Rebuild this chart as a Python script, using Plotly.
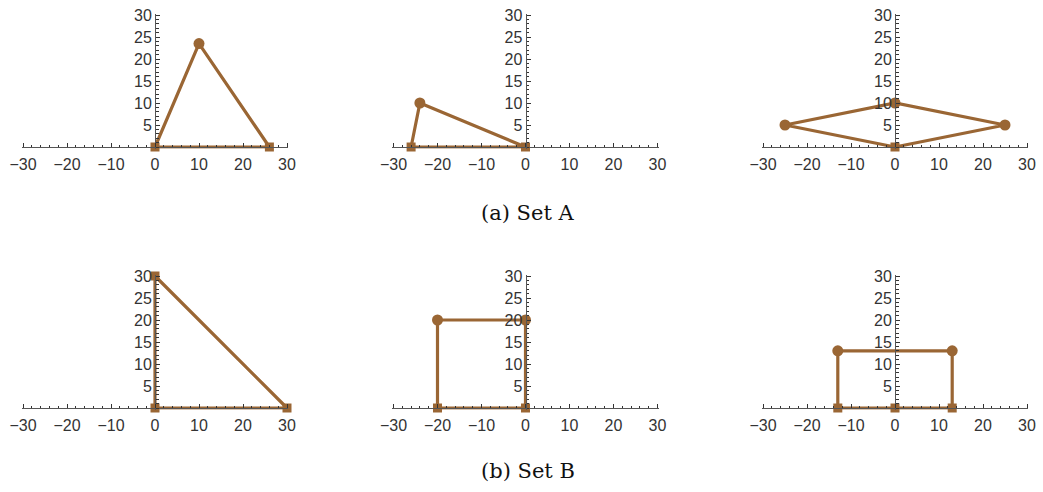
import plotly.graph_objects as go

# ---------------- data ----------------
a1_x = [0, 10, 26]
a1_y = [0, 23.5, 0]
a1_kind = ["fixed", "free", "fixed"]

a2_x = [-26, -24, 0]
a2_y = [0, 10, 0]
a2_kind = ["fixed", "free", "fixed"]

a3_x = [0, -25, 0, 25]
a3_y = [0, 5, 10, 5]
a3_kind = ["fixed", "free", "free", "free"]

b1_x = [0, 0, 30]
b1_y = [0, 30, 0]
b1_kind = ["fixed", "fixed", "fixed"]

b2_x = [-20, -20, 0, 0]
b2_y = [0, 20, 20, 0]
b2_kind = ["fixed", "free", "free", "fixed"]

b3_x = [-13, -13, 13, 13, 0]
b3_y = [0, 13, 13, 0, 0]
b3_kind = ["fixed", "free", "free", "fixed", "fixed"]

x_ticks = [-30, -20, -10, 0, 10, 20, 30]
y_ticks = [5, 10, 15, 20, 25, 30]
captions = ["(a) Set A", "(b) Set B"]

# ---------------- layout helpers ----------------
W, H = 1043, 492
PX = 4.4            # pixels per data unit
XR = 30.3
YTOP = 30.3
YBOT = 0.4
col_centers = [155, 525.5, 895]
row_zero = [147, 408]
caption_y = [213, 471]

BROWN = "rgb(154,102,52)"
symbol_map = {"fixed": "square", "free": "circle"}
size_map = {"fixed": 9, "free": 11}

panels = [
    (a1_x, a1_y, a1_kind), (a2_x, a2_y, a2_kind), (a3_x, a3_y, a3_kind),
    (b1_x, b1_y, b1_kind), (b2_x, b2_y, b2_kind), (b3_x, b3_y, b3_kind),
]

fig = go.Figure()
layout = dict(
    width=W, height=H, margin=dict(l=0, r=0, t=0, b=0, pad=0, autoexpand=False),
    paper_bgcolor="white", plot_bgcolor="white", showlegend=False,
)

tickfont = dict(family="Liberation Sans, Arial, sans-serif", size=16, color="#333")

for i, (px, py, kind) in enumerate(panels):
    r, c = divmod(i, 3)
    n = "" if i == 0 else str(i + 1)
    cx = col_centers[c]
    y0 = row_zero[r]
    xd = [(cx - XR * PX) / W, (cx + XR * PX) / W]
    yd = [1 - (y0 + YBOT * PX) / H, 1 - (y0 - YTOP * PX) / H]

    layout["xaxis" + n] = dict(
        domain=xd, range=[-XR, XR], anchor="free", position=1 - y0 / H,
        automargin=False, ticklabelstandoff=3,
        showgrid=False, zeroline=False, showline=True, linecolor="#555", linewidth=1,
        tickvals=x_ticks, ticktext=[str(v).replace("-", "\u2212") for v in x_ticks],
        ticks="inside", ticklen=4, tickwidth=1, tickcolor="#333",
        minor=dict(dtick=2, tick0=0, ticks="inside", ticklen=2.5, tickwidth=1, tickcolor="#333"),
        tickfont=tickfont, fixedrange=True,
    )
    layout["yaxis" + n] = dict(
        domain=yd, range=[-YBOT, YTOP], anchor="free", position=cx / W,
        automargin=False,
        showgrid=False, zeroline=False, showline=True, linecolor="#555", linewidth=1,
        tickvals=y_ticks, ticks="inside", ticklen=4, tickwidth=1, tickcolor="#333",
        minor=dict(dtick=1, tick0=0, ticks="inside", ticklen=2.5, tickwidth=1, tickcolor="#333"),
        tickfont=tickfont, fixedrange=True,
    )

    fig.add_trace(go.Scatter(
        x=list(px) + [px[0]], y=list(py) + [py[0]], mode="lines",
        line=dict(color=BROWN, width=3.2), xaxis="x" + n, yaxis="y" + n,
        hoverinfo="skip",
    ))
    fig.add_trace(go.Scatter(
        x=px, y=py, mode="markers", cliponaxis=False,
        marker=dict(color=BROWN, opacity=1, symbol=[symbol_map[k] for k in kind],
                    size=[size_map[k] for k in kind], line=dict(width=0)),
        xaxis="x" + n, yaxis="y" + n,
    ))

layout["annotations"] = [
    dict(text=captions[k], x=528 / W, y=1 - caption_y[k] / H, xref="paper", yref="paper",
         showarrow=False, xanchor="center", yanchor="middle",
         font=dict(family="DejaVu Serif, serif", size=21, color="#111"))
    for k in range(2)
]

fig.update_layout(**layout)
fig.write_html(
    "out.html",
    config={"displayModeBar": False, "staticPlot": True},
    post_script="document.body.style.margin='0';document.body.style.overflow='hidden';",
)
